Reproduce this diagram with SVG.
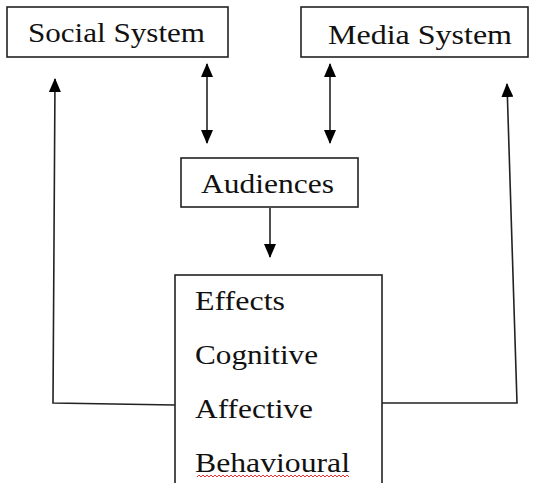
<svg xmlns="http://www.w3.org/2000/svg" width="535" height="483" viewBox="0 0 535 483">
<defs>
<style>
.box{fill:#fff;stroke:#222;stroke-width:1.6}
.t{font-family:"Liberation Serif",serif;font-size:27px;fill:#111}
.c{fill:none;stroke:#222;stroke-width:1.6}
</style>
<marker id="ah" viewBox="0 0 14 12" refX="13" refY="6" markerWidth="14" markerHeight="12" orient="auto-start-reverse" markerUnits="userSpaceOnUse">
<path d="M0,0 L14,6 L0,12 z" fill="#000"/>
</marker>
</defs>
<rect width="535" height="483" fill="#fff"/>
<g id="connectors">
<line class="c" x1="207" y1="64" x2="207" y2="143" marker-start="url(#ah)" marker-end="url(#ah)"/>
<line class="c" x1="330" y1="64" x2="330" y2="143" marker-start="url(#ah)" marker-end="url(#ah)"/>
<line class="c" x1="270" y1="208" x2="270" y2="257" marker-end="url(#ah)"/>
<polyline class="c" points="175,405 53,403 55,79" marker-end="url(#ah)"/>
<polyline class="c" points="382,403 517,403 507,84" marker-end="url(#ah)"/>
</g>
<g id="social">
<rect class="box" x="7" y="7" width="221" height="50"/>
<text class="t" x="28" y="42" textLength="177" lengthAdjust="spacingAndGlyphs">Social System</text>
</g>
<g id="media">
<rect class="box" x="301" y="7" width="227" height="50"/>
<text class="t" x="328" y="44" textLength="184" lengthAdjust="spacingAndGlyphs">Media System</text>
</g>
<g id="audiences">
<rect class="box" x="181" y="158" width="177" height="49"/>
<text class="t" x="201" y="193" textLength="133" lengthAdjust="spacingAndGlyphs">Audiences</text>
</g>
<g id="effects">
<rect class="box" x="175" y="275" width="207" height="220"/>
<text class="t" x="195" y="310" textLength="90" lengthAdjust="spacingAndGlyphs">Effects</text>
<text class="t" x="195" y="364" textLength="123" lengthAdjust="spacingAndGlyphs">Cognitive</text>
<text class="t" x="195" y="418" textLength="118" lengthAdjust="spacingAndGlyphs">Affective</text>
<text class="t" x="195" y="472" textLength="155" lengthAdjust="spacingAndGlyphs">Behavioural</text>
<path d="M197,477 l2,-2 l2,2 l2,-2 l2,2 l2,-2 l2,2 l2,-2 l2,2 l2,-2 l2,2 l2,-2 l2,2 l2,-2 l2,2 l2,-2 l2,2 l2,-2 l2,2 l2,-2 l2,2 l2,-2 l2,2 l2,-2 l2,2 l2,-2 l2,2 l2,-2 l2,2 l2,-2 l2,2 l2,-2 l2,2 l2,-2 l2,2 l2,-2 l2,2 l2,-2 l2,2 l2,-2 l2,2 l2,-2 l2,2 l2,-2 l2,2 l2,-2 l2,2 l2,-2 l2,2 l2,-2 l2,2 l2,-2 l2,2 l2,-2 l2,2 l2,-2 l2,2 l2,-2 l2,2 l2,-2 l2,2 l2,-2 l2,2 l2,-2 l2,2 l2,-2 l2,2 l2,-2 l2,2 l2,-2 l2,2 l2,-2 l2,2 l2,-2 l2,2 l2,-2 l2,2" fill="none" stroke="#e03030" stroke-width="1"/>
</g>
</svg>
